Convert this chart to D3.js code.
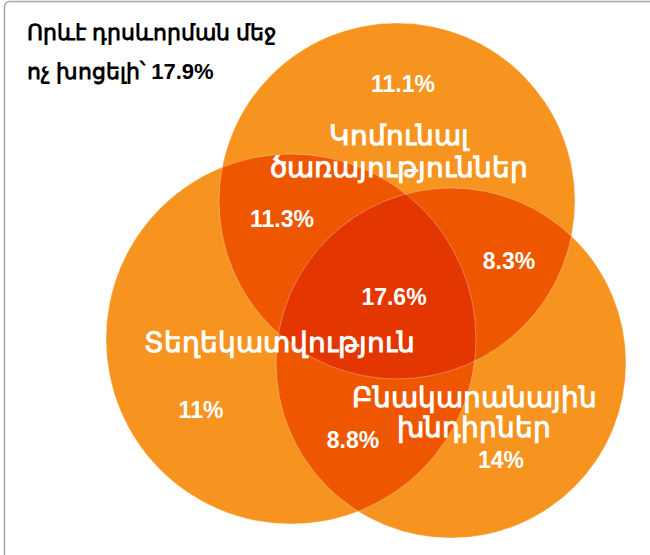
<!DOCTYPE html>
<html>
<head>
<meta charset="utf-8">
<script src="https://cdn.jsdelivr.net/npm/d3@7"></script>
<style>
  body { margin: 0; background: #fff; }
  text { font-family: Arial, "Liberation Sans", sans-serif; font-weight: bold; }
</style>
</head>
<body>
<svg></svg>
<script>
const width = 650;
const height = 555;

// sets (circles)
const setNames = [['Կոմունալ', 'ծառայություններ'], ['Տեղեկատվություն'], ['Բնակարանային', 'խնդիրներ']];
// region values, %
const singleValues = [11.1, 11, 14];
const pairSets = [[0, 1], [0, 2], [1, 2]];
const pairValues = [11.3, 8.3, 8.8];
const tripleValue = 17.6;
const titleLines = ['Որևէ դրսևորման մեջ', 'ոչ խոցելի՝ 17.9%'];

// layout of the diagram (circle centres and radii, label spots)
const circles = [
    {cx: 397, cy: 201, r: 178},
    {cx: 291, cy: 339, r: 185},
    {cx: 451, cy: 363, r: 175}
];
const nameSpots = [{x: 399, y: 145}, {x: 279, y: 352}, {x: 474, y: 407}];
const nameLineGap = [32, 0, 30];
const singleSpots = [{x: 403, y: 92}, {x: 201, y: 418}, {x: 501, y: 468}];
const pairSpots = [{x: 282, y: 227}, {x: 509, y: 269}, {x: 353, y: 448}];
const tripleSpot = {x: 394, y: 305};

const colors = {single: '#f7941f', pair: '#ef5600', triple: '#e43600'};
const fmt = v => v + '%';

let svg = d3.select('svg').attr('width', width).attr('height', height);

// chart frame
svg.append('rect')
    .attr('x', 4.5).attr('y', 1.5)
    .attr('width', 700).attr('height', 700)
    .attr('rx', 5)
    .attr('fill', 'none')
    .attr('stroke', '#a6a6a6')
    .attr('stroke-width', 1.5);

let defs = svg.append('defs');
circles.forEach((c, i) => {
    defs.append('clipPath').attr('id', 'clip' + i)
        .append('circle').attr('cx', c.cx).attr('cy', c.cy).attr('r', c.r);
});

// single sets
svg.append('g').selectAll('circle')
    .data(circles)
    .enter().append('circle')
    .attr('cx', c => c.cx).attr('cy', c => c.cy).attr('r', c => c.r)
    .attr('fill', colors.single);

// pairwise overlaps
svg.append('g').selectAll('g')
    .data(pairSets)
    .enter().append('g')
    .attr('clip-path', p => `url(#clip${p[0]})`)
    .append('circle')
    .attr('cx', p => circles[p[1]].cx).attr('cy', p => circles[p[1]].cy).attr('r', p => circles[p[1]].r)
    .attr('fill', colors.pair);

// triple overlap
svg.append('g').attr('clip-path', 'url(#clip0)')
    .append('g').attr('clip-path', 'url(#clip1)')
    .append('circle')
    .attr('cx', circles[2].cx).attr('cy', circles[2].cy).attr('r', circles[2].r)
    .attr('fill', colors.triple);

// faint outlines
svg.append('g').selectAll('circle')
    .data(circles)
    .enter().append('circle')
    .attr('cx', c => c.cx).attr('cy', c => c.cy).attr('r', c => c.r)
    .attr('fill', 'none')
    .attr('stroke', 'rgba(255,255,255,0.3)')
    .attr('stroke-width', 1);

// labels
let labels = svg.append('g').attr('fill', '#fff').attr('text-anchor', 'middle');

labels.selectAll('text.name')
    .data(setNames)
    .enter().append('text').attr('class', 'name')
    .attr('font-size', 28)
    .each(function(lines, i) {
        lines.forEach((line, k) => {
            d3.select(this).append('tspan')
                .attr('x', nameSpots[i].x)
                .attr('y', nameSpots[i].y + k * nameLineGap[i])
                .text(line);
        });
    });

let pct = labels.append('g').attr('font-size', 23);
pct.selectAll('text.single')
    .data(singleValues)
    .enter().append('text')
    .attr('x', (v, i) => singleSpots[i].x).attr('y', (v, i) => singleSpots[i].y)
    .text(fmt);
pct.selectAll('text.pair')
    .data(pairValues)
    .enter().append('text')
    .attr('x', (v, i) => pairSpots[i].x).attr('y', (v, i) => pairSpots[i].y)
    .text(fmt);
pct.append('text')
    .attr('x', tripleSpot.x).attr('y', tripleSpot.y)
    .text(fmt(tripleValue));

// title
svg.append('g').selectAll('text')
    .data(titleLines)
    .enter().append('text')
    .attr('x', 27).attr('y', (t, i) => 40 + i * 39)
    .attr('font-size', 22)
    .attr('fill', '#000')
    .text(t => t);
</script>
</body>
</html>
